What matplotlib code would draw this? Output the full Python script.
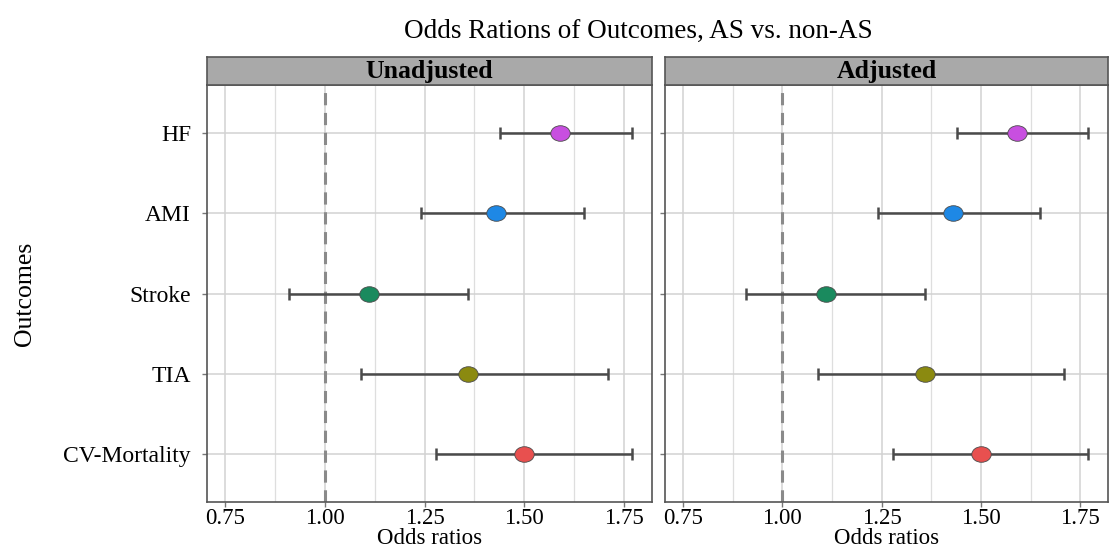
import matplotlib
matplotlib.use("Agg")
import matplotlib.pyplot as plt
from matplotlib.path import Path
from matplotlib.markers import MarkerStyle
from matplotlib.transforms import Affine2D
import numpy as np

plt.rcParams['font.family'] = ['Liberation Serif', 'DejaVu Serif']

outcomes = ["CV-Mortality", "TIA", "Stroke", "AMI", "HF"]
colors = ["#E8504F", "#8B8A10", "#1A8A5E", "#1E88E5", "#C84FE0"]
panels = ["Unadjusted", "Adjusted"]
or_unadj = [1.50, 1.36, 1.11, 1.43, 1.59]
lo_unadj = [1.28, 1.09, 0.91, 1.24, 1.44]
hi_unadj = [1.77, 1.71, 1.36, 1.65, 1.77]
or_adj = [1.50, 1.36, 1.11, 1.43, 1.59]
lo_adj = [1.28, 1.09, 0.91, 1.24, 1.44]
hi_adj = [1.77, 1.71, 1.36, 1.65, 1.77]
xticks = [0.75, 1.00, 1.25, 1.50, 1.75]
xticklabels = ["0.75", "1.00", "1.25", "1.50", "1.75"]

data = [(or_unadj, lo_unadj, hi_unadj), (or_adj, lo_adj, hi_adj)]

fig = plt.figure(figsize=(11.10, 5.48), dpi=100)
W, H = 1110, 548
boxes = [(207, 652), (665, 1108)]
ptop, pbot = 85, 502
stop = 57

ell = Path.unit_circle().transformed(Affine2D().scale(1.25, 1.0))
mk = MarkerStyle(ell)

for i, (panel, (ors, los, his)) in enumerate(zip(panels, data)):
    x0, x1 = boxes[i]
    ax = fig.add_axes([x0 / W, (H - pbot) / H, (x1 - x0) / W, (pbot - ptop) / H])
    ypos = np.arange(1, len(outcomes) + 1)
    ax.set_xlim(0.705, 1.82)
    ax.set_ylim(0.4, 5.6)
    ax.set_xticks(xticks)
    ax.set_xticks([0.875, 1.125, 1.375, 1.625], minor=True)
    ax.set_yticks(ypos)
    ax.grid(True, which='major', color='#d2d2d2', lw=1.1, zorder=0)
    ax.grid(True, which='minor', axis='x', color='#dedede', lw=0.9, zorder=0)
    ax.set_axisbelow(True)
    ax.axvline(1.0, color='#8a8a8a', lw=2.2, ls=(0, (4, 2.5)), zorder=1)
    for j in range(len(outcomes)):
        ax.errorbar([ors[j]], [ypos[j]], xerr=[[ors[j] - los[j]], [his[j] - ors[j]]],
                    fmt='none', ecolor='#4a4a4a', elinewidth=1.8, capsize=4.5,
                    capthick=1.8, zorder=2)
        ax.plot([ors[j]], [ypos[j]], marker=mk, ms=14, color=colors[j],
                mec='#4a4a4a', mew=0.6, ls='none', zorder=3)
    ax.set_xticklabels(xticklabels, fontsize=16.5)
    if i == 0:
        ax.set_yticklabels(outcomes, fontsize=17)
        ax.set_ylabel("Outcomes", fontsize=18.5, labelpad=20)
    else:
        ax.set_yticklabels([])
    ax.set_xlabel("Odds ratios", fontsize=16.5, va='center')
    ax.xaxis.set_label_coords(0.5, -(538 - pbot) / (pbot - ptop))
    ax.tick_params(axis='both', which='major', length=3.5, color='#777777', width=1)
    ax.tick_params(axis='x', which='major', pad=1)
    ax.tick_params(axis='y', which='major', pad=8)
    ax.tick_params(axis='x', which='minor', length=0)
    for s in ax.spines.values():
        s.set_color('#555555')
        s.set_linewidth(1.2)
    # strip
    sax = fig.add_axes([x0 / W, (H - ptop) / H, (x1 - x0) / W, (ptop - stop) / H])
    sax.set_facecolor('#a9a9a9')
    sax.set_xticks([])
    sax.set_yticks([])
    for s in sax.spines.values():
        s.set_color('#555555')
        s.set_linewidth(1.2)
    sax.text(0.5, 0.47, panel, transform=sax.transAxes, ha='center', va='center',
             fontsize=18.5, fontweight='bold', color='black')

fig.text(638 / W, 1 - 31 / H, "Odds Rations of Outcomes, AS vs. non-AS",
         ha='center', va='center', fontsize=19.5)

fig.savefig("out.png", dpi=100)
